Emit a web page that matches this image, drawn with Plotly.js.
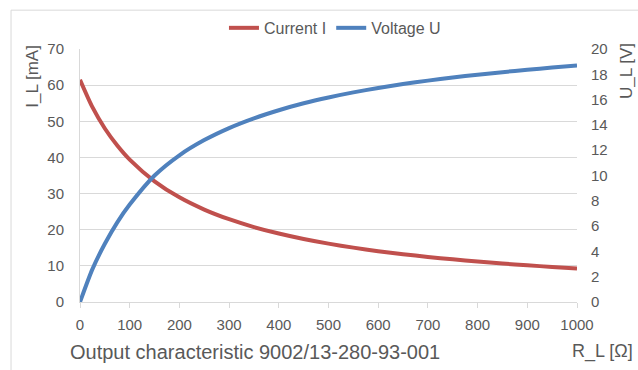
<!DOCTYPE html>
<html>
<head>
<meta charset="utf-8">
<script src="https://cdn.plot.ly/plotly-3.0.1.min.js"></script>
<style>
html,body{margin:0;padding:0;background:#fff;}
#chart{width:638px;height:370px;}
</style>
</head>
<body>
<div id="chart"></div>
<script>
// Load resistance R_L [Ω]
const resistance = [0, 25, 50, 75, 100, 150, 200, 250, 300, 350, 400, 450, 500, 550, 600, 650, 700, 750, 800, 850, 900, 950, 1000];
// Current I_L [mA]
const currentI = [61.5, 53.9, 48.0, 43.3, 39.4, 33.4, 28.96, 25.58, 22.9, 20.73, 18.94, 17.43, 16.15, 15.04, 14.07, 13.22, 12.47, 11.8, 11.19, 10.65, 10.16, 9.7, 9.29];
// Voltage U_L [V]
const voltageU = [0, 2.6, 4.6, 6.3, 7.7, 10.0, 11.6, 12.8, 13.75, 14.52, 15.16, 15.71, 16.17, 16.57, 16.92, 17.23, 17.5, 17.75, 17.97, 18.17, 18.36, 18.53, 18.7];
const seriesNames = ['Current I', 'Voltage U'];
const xTicks = [0, 100, 200, 300, 400, 500, 600, 700, 800, 900, 1000];
const yTicksLeft = [0, 10, 20, 30, 40, 50, 60, 70];
const yTicksRight = [0, 2, 4, 6, 8, 10, 12, 14, 16, 18, 20];

const FONT = '"Liberation Sans", Arial, sans-serif';
const GREY = '#595959';
const GRID = '#D9D9D9';

const traces = [
  {x: resistance, y: currentI, name: seriesNames[0], type: 'scatter', mode: 'lines',
   line: {color: '#C0504D', width: 4, shape: 'spline', smoothing: 0.7}, yaxis: 'y', hoverinfo: 'skip'},
  {x: resistance, y: voltageU, name: seriesNames[1], type: 'scatter', mode: 'lines',
   line: {color: '#4F81BD', width: 4, shape: 'spline', smoothing: 0.7}, yaxis: 'y2', hoverinfo: 'skip'}
];

const layout = {
  width: 638, height: 370,
  margin: {l: 80, r: 61, t: 48, b: 68, pad: 0},
  paper_bgcolor: '#fff', plot_bgcolor: '#fff',
  font: {family: FONT, color: GREY, size: 15},
  showlegend: true,
  legend: {orientation: 'h', x: 0.513, xanchor: 'center', y: 1.079, yanchor: 'middle',
           font: {family: FONT, size: 16, color: GREY}, bgcolor: 'rgba(0,0,0,0)',
           itemwidth: 30, tracegroupgap: 0},
  xaxis: {range: [0, 1000], tickvals: xTicks, ticktext: xTicks.map(String),
          showgrid: false, zeroline: false, showline: true, linecolor: GRID, linewidth: 1,
          ticks: 'outside', ticklen: 5, tickcolor: GRID, tickwidth: 1,
          tickfont: {family: FONT, size: 15, color: GREY}, ticklabelstandoff: 4, fixedrange: true},
  yaxis: {range: [0, 70], tickvals: yTicksLeft, ticktext: yTicksLeft.map(String),
          showgrid: true, gridcolor: GRID, gridwidth: 1, zeroline: false,
          showline: true, linecolor: GRID, linewidth: 1,
          ticks: '', tickfont: {family: FONT, size: 15, color: GREY}, ticklabelstandoff: 12, fixedrange: true},
  yaxis2: {range: [0, 20], tickvals: yTicksRight, ticktext: yTicksRight.map(String),
           overlaying: 'y', side: 'right', showgrid: false, zeroline: false, showline: false,
           ticks: '', tickfont: {family: FONT, size: 15, color: GREY}, ticklabelstandoff: 13, fixedrange: true},
  shapes: [
    {type: 'rect', xref: 'paper', yref: 'paper', x0: -0.1388, x1: 1.3, y0: -0.5, y1: 1.1535,
     line: {color: GRID, width: 1}, fillcolor: 'rgba(0,0,0,0)', layer: 'below'}
  ],
  annotations: [
    {text: 'Output characteristic 9002/13-280-93-001', xref: 'paper', yref: 'paper',
     x: -0.0241, y: -0.197, xanchor: 'left', yanchor: 'middle', showarrow: false,
     font: {family: FONT, size: 20, color: GREY}},
    {text: 'R_L [Ω]', xref: 'paper', yref: 'paper', x: 1.1167, y: -0.197,
     xanchor: 'right', yanchor: 'middle', showarrow: false, font: {family: FONT, size: 18, color: GREY}},
    {text: 'I_L [mA]', xref: 'paper', yref: 'paper', x: -0.0946, y: 0.894, textangle: -90,
     xanchor: 'center', yanchor: 'middle', showarrow: false, font: {family: FONT, size: 17, color: GREY}},
    {text: 'U_L [V]', xref: 'paper', yref: 'paper', x: 1.0986, y: 0.913, textangle: -90,
     xanchor: 'center', yanchor: 'middle', showarrow: false, font: {family: FONT, size: 17, color: GREY}}
  ]
};

Plotly.newPlot('chart', traces, layout, {staticPlot: true, displayModeBar: false});
</script>
</body>
</html>
